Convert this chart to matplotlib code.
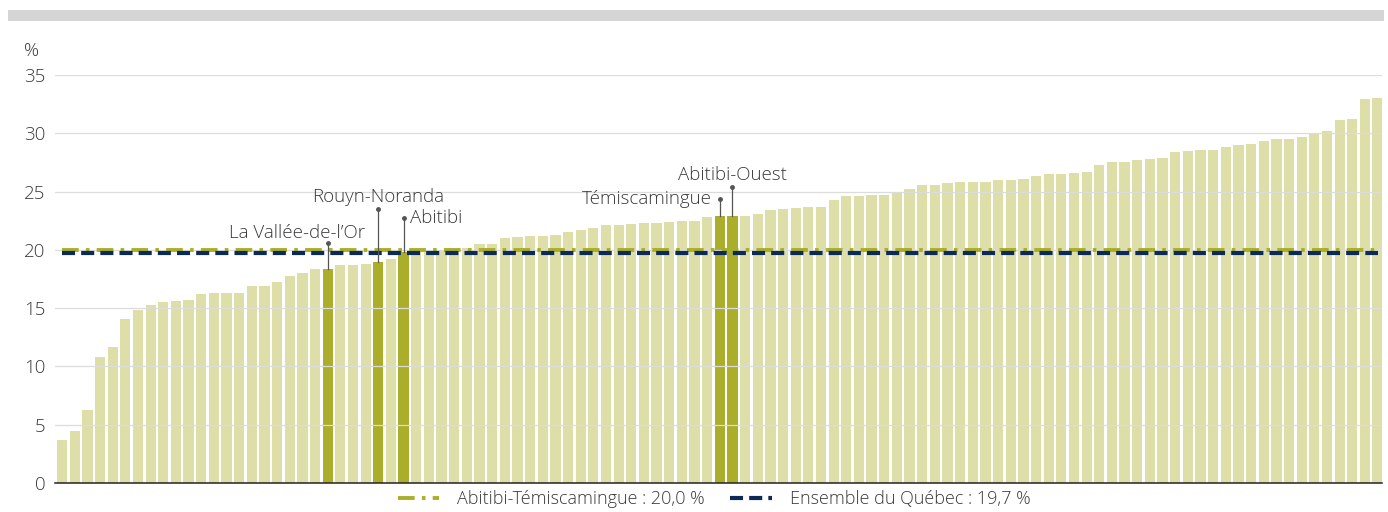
import numpy as np
import matplotlib
matplotlib.use("Agg")
from matplotlib import pyplot as plt
from matplotlib.patches import Rectangle

# taux (%) par MRC, triés en ordre croissant
values = [
    3.7, 4.5, 6.3, 10.8, 11.7, 14.1, 14.8, 15.3, 15.5, 15.6,
    15.7, 16.2, 16.3, 16.3, 16.3, 16.9, 16.9, 17.2, 17.8, 18.0,
    18.4, 18.4, 18.7, 18.7, 18.8, 19.0, 19.2, 19.8, 19.8, 19.9,
    20.0, 20.1, 20.2, 20.5, 20.5, 21.0, 21.1, 21.2, 21.2, 21.3,
    21.5, 21.7, 21.9, 22.1, 22.1, 22.2, 22.3, 22.3, 22.4, 22.5,
    22.5, 22.8, 22.9, 22.9, 22.9, 23.1, 23.4, 23.5, 23.6, 23.7,
    23.7, 24.3, 24.6, 24.6, 24.7, 24.7, 24.9, 25.2, 25.6, 25.6,
    25.7, 25.8, 25.8, 25.8, 26.0, 26.0, 26.1, 26.3, 26.5, 26.5,
    26.6, 26.7, 27.3, 27.5, 27.5, 27.7, 27.8, 27.9, 28.4, 28.5,
    28.6, 28.6, 28.8, 29.0, 29.1, 29.3, 29.5, 29.5, 29.7, 29.9,
    30.2, 31.1, 31.2, 32.9, 33.0,
]
# MRC de la région mises en évidence (position dans le classement)
region_names = ["La Vallée-de-l’Or", "Rouyn-Noranda", "Abitibi", "Témiscamingue", "Abitibi-Ouest"]
region_idx = [21, 25, 27, 52, 53]

region_avg = 20.0
quebec_avg = 19.7
yticks = [0, 5, 10, 15, 20, 25, 30, 35]

# placement des étiquettes : hauteur du point, alignement, décalage du texte (px)
label_top = [20.6, 23.5, 22.7, 24.4, 25.4]
label_ha = ["right", "center", "left", "right", "center"]
label_va = ["bottom", "bottom", "center", "center", "bottom"]
label_off = [(37, 1), (0, 3), (6, 0), (-8, 0), (0, 3)]

light = "#dedea9"
dark = "#aaae2a"
navy = "#0b2a55"
txt = "#3a3a3a"

plt.rcParams["font.family"] = ["Open Sans", "DejaVu Sans"]
plt.rcParams["font.weight"] = "light"
plt.rcParams["lines.scale_dashes"] = False
fs = 13.5

fig = plt.figure(figsize=(13.88, 5.12), dpi=100)
ax = fig.add_axes([55 / 1388, 1 - 483 / 512, (1382 - 55) / 1388, (483 - 75) / 512])

# bandeau gris en haut
fig.patches.append(Rectangle((8 / 1388, 1 - 21 / 512), 1376 / 1388, 11 / 512,
                             transform=fig.transFigure, color="#d5d5d5", lw=0))

x = np.arange(len(values))
colors = [dark if i in region_idx else light for i in x]
ax.bar(x, values, width=0.81, color=colors, zorder=1)

ax.plot([x[0], x[-1]], [region_avg, region_avg], color=dark, lw=2.8,
        linestyle=(0, (12, 5.2, 2.6, 5.2)), zorder=3,
        label="Abitibi-Témiscamingue : 20,0 %")
ax.plot([x[0], x[-1]], [quebec_avg, quebec_avg], color=navy, lw=3.0,
        linestyle=(0, (9.4, 4.4)), zorder=4,
        label="Ensemble du Québec : 19,7 %")

for name, i, top, ha, va, off in zip(region_names, region_idx, label_top, label_ha, label_va, label_off):
    ax.plot([i, i], [values[i], top], color="#555555", lw=0.9, zorder=5)
    ax.plot(i, top, "o", color="#555555", ms=2.5, zorder=5)
    ax.annotate(name, (i, top), xytext=(off[0] * 0.72, off[1] * 0.72), textcoords="offset points",
                ha=ha, va=va, fontsize=fs, color=txt)

ax.set_xlim(-0.56, len(values) - 1 + 0.35)
ax.set_ylim(0, 35)
ax.set_yticks(yticks)
ax.set_xticks([])
ax.yaxis.grid(True, color="#dcdcdc", lw=0.9)
ax.set_axisbelow(False)
for s in ["top", "right", "left"]:
    ax.spines[s].set_visible(False)
ax.spines["bottom"].set_color("#222222")
ax.spines["bottom"].set_linewidth(1.1)
ax.spines["bottom"].set_zorder(6)
ax.tick_params(axis="y", length=0, pad=7, labelsize=fs, labelcolor=txt)

fig.text(32 / 1388, 1 - 51 / 512, "%", ha="center", va="center", fontsize=fs, color=txt)

fig.legend(loc="center", bbox_to_anchor=(714 / 1388, 1 - 499 / 512), ncol=2, frameon=False,
           fontsize=13, labelcolor=txt, handlelength=2.3, handletextpad=1.0, columnspacing=1.4)

fig.savefig("out.png", dpi=100)
